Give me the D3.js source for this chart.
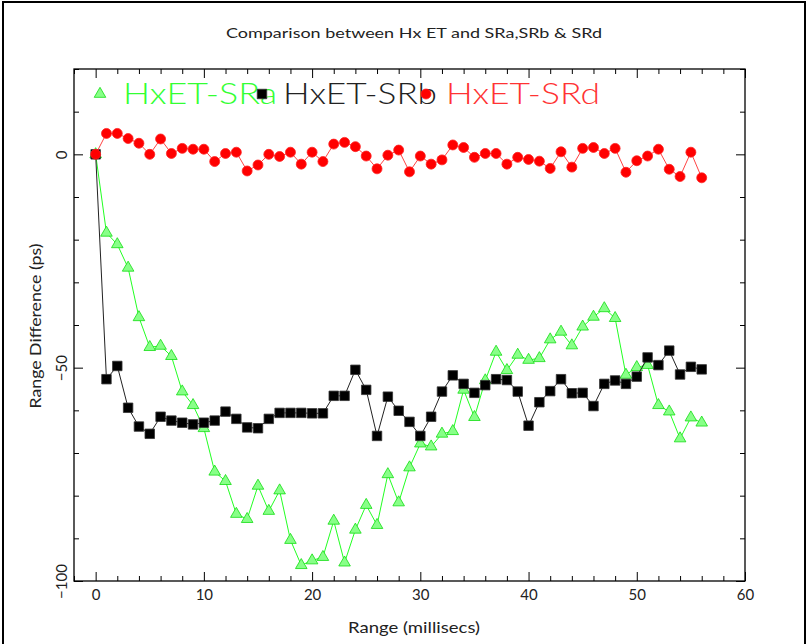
<!DOCTYPE html>
<html>
<head>
<meta charset="utf-8">
<script src="https://cdn.jsdelivr.net/npm/d3@7"></script>
<style>
  body { margin: 0; background: #fff; }
  svg { display: block; }
  text { font-family: Lato, "DejaVu Sans", sans-serif; fill: #222; }
</style>
</head>
<body>
<div id="chart"></div>
<script>
// data (x = 0..56)
const rangeMs = d3.range(0, 57);
const srA = [0, -18.4, -21.1, -26.6, -38.2, -45.2, -44.9, -47.3, -55.6, -58.8, -64.2, -74.4, -76.6, -84.3, -85.5,
  -77.7, -83.6, -78.8, -90.4, -96.3, -95.2, -94.4, -85.9, -95.7, -88.0, -82.2, -86.9, -75.0, -81.6, -73.4,
  -67.8, -68.5, -65.5, -64.9, -55.2, -61.6, -53.0, -46.3, -50.6, -47.0, -48.2, -47.8, -43.4, -41.6, -44.8,
  -40.4, -38.1, -36.1, -38.4, -51.7, -49.9, -49.4, -58.8, -60.3, -66.6, -61.7, -62.9];
const srB = [0, -52.7, -49.6, -59.4, -63.8, -65.5, -61.5, -62.4, -62.9, -63.3, -62.9, -62.4, -60.3, -62.0, -64.0,
  -64.2, -62.0, -60.6, -60.6, -60.6, -60.7, -60.7, -56.6, -56.6, -50.5, -55.2, -66.0, -56.8, -60.1, -62.7,
  -66.0, -61.5, -55.6, -51.8, -53.8, -55.9, -54.1, -52.7, -52.9, -55.6, -63.6, -58.1, -55.5, -52.7, -56.0,
  -55.9, -59.0, -53.8, -53.0, -53.8, -52.1, -47.6, -49.4, -46.0, -51.6, -49.8, -50.4];
const srD = [0, 4.9, 4.9, 3.7, 2.6, 0, 3.6, 0.2, 1.4, 1.2, 1.2, -1.7, 0.2, 0.5, -3.9, -2.5, 0, -0.5, 0.5, -2.3,
  0.5, -1.7, 2.4, 2.8, 1.8, -0.4, -3.4, -0.2, 1.0, -4.1, -0.4, -2.3, -1.3, 2.2, 1.6, -0.7, 0.2, 0.2, -2.3, -0.7,
  -1.2, -1.6, -3.3, 0.6, -3.0, 1.4, 1.6, 0.2, 1.4, -4.2, -1.5, -0.4, 1.2, -3.5, -5.2, 0.5, -5.5];

const seriesNames = ["HxET-SRa", "HxET-SRb", "HxET-SRd"];
const xMajorTicks = [0, 10, 20, 30, 40, 50, 60];
const yMajorTicks = [0, -50, -100];

const W = 809, H = 644;
const plot = { left: 74, right: 745, top: 69, bottom: 581 };

const svg = d3.select("#chart").append("svg").attr("width", W).attr("height", H);

// outer border
svg.append("path")
  .attr("d", `M3,${H} V2 H805 V${H}`)
  .attr("fill", "none").attr("stroke", "#000").attr("stroke-width", 2);

const x = d3.scaleLinear().domain([-2, 60]).range([plot.left, plot.right]);
const y = d3.scaleLinear().domain([-100, 20]).range([plot.bottom, plot.top]);

//axes: ticks pointing inward on all four sides
const xMinor = d3.range(-2, 61, 2).filter((d) => !xMajorTicks.includes(d));
const yMinor = d3.range(-100, 21, 10).filter((d) => !yMajorTicks.includes(d));

function tickAxis(axis, pos, vals, size, fmt) {
  const g = svg.append("g").attr("transform", pos)
    .call(axis.tickValues(vals).tickSizeInner(-size).tickSizeOuter(0).tickFormat(fmt || ""));
  g.select(".domain").remove();
  g.selectAll("line").attr("stroke", "#000");
  return g;
}

const labelFont = "Lato, 'DejaVu Sans', sans-serif";

const xb = tickAxis(d3.axisBottom(x).tickPadding(8), `translate(0,${plot.bottom})`, xMajorTicks, 9, d3.format("d"));
xb.selectAll("text").attr("font-size", 15).attr("fill", "#222").attr("font-family", labelFont);
tickAxis(d3.axisBottom(x), `translate(0,${plot.bottom})`, xMinor, 5);
tickAxis(d3.axisTop(x), `translate(0,${plot.top})`, xMajorTicks, 9);
tickAxis(d3.axisTop(x), `translate(0,${plot.top})`, xMinor, 5);

const yl = tickAxis(d3.axisLeft(y), `translate(${plot.left},0)`, yMajorTicks, 9, d3.format("d"));
yl.selectAll("text")
  .attr("x", null).attr("dy", null)
  .attr("text-anchor", "middle")
  .attr("transform", "translate(-7,0) rotate(-90)")
  .attr("font-size", 15).attr("fill", "#222").attr("font-family", labelFont);
tickAxis(d3.axisLeft(y), `translate(${plot.left},0)`, yMinor, 5);
tickAxis(d3.axisRight(y), `translate(${plot.right},0)`, yMajorTicks, 9);
tickAxis(d3.axisRight(y), `translate(${plot.right},0)`, yMinor, 5);

svg.append("rect")
  .attr("x", plot.left).attr("y", plot.top)
  .attr("width", plot.right - plot.left).attr("height", plot.bottom - plot.top)
  .attr("fill", "none").attr("stroke", "#000").attr("stroke-width", 1.3);

// titles
svg.append("text").attr("x", 414).attr("y", 38).attr("text-anchor", "middle")
  .attr("font-size", 14).attr("textLength", 376).attr("lengthAdjust", "spacingAndGlyphs")
  .text("Comparison between Hx ET and SRa,SRb & SRd");
svg.append("text").attr("x", 414).attr("y", 633).attr("text-anchor", "middle")
  .attr("font-size", 15).attr("textLength", 132).attr("lengthAdjust", "spacingAndGlyphs")
  .text("Range (millisecs)");
svg.append("text").attr("transform", "translate(41,326) rotate(-90)").attr("text-anchor", "middle")
  .attr("font-size", 15).attr("textLength", 165).attr("lengthAdjust", "spacingAndGlyphs")
  .text("Range Difference (ps)");

//marker shapes
const tri = d3.symbol().type(d3.symbolTriangle).size(58);
const sq = d3.symbol().type(d3.symbolSquare).size(90);
const circ = d3.symbol().type(d3.symbolCircle).size(78);

const series = [
  { name: seriesNames[0], vals: srA, line: "#22ff22", fill: "#88ff88", stroke: "#11dd11", text: "#33ff33", sym: tri },
  { name: seriesNames[1], vals: srB, line: "#222", fill: "#000", stroke: "#333", text: "#222", sym: sq },
  { name: seriesNames[2], vals: srD, line: "#ff4444", fill: "#ff0000", stroke: "#ff2222", text: "#ff3333", sym: circ },
];

const lineGen = d3.line().x((d) => x(d[0])).y((d) => y(d[1]));

for (const s of series) {
  const pts = rangeMs.map((r, i) => [r, s.vals[i]]);
  svg.append("path").datum(pts)
    .attr("d", lineGen).attr("fill", "none")
    .attr("stroke", s.line).attr("stroke-width", 1);
  svg.append("g").selectAll("path").data(pts).join("path")
    .attr("d", s.sym)
    .attr("transform", (d) => `translate(${x(d[0])},${y(d[1])})`)
    .attr("fill", s.fill).attr("stroke", s.stroke).attr("stroke-width", 0.8);
}

// legend across top of plot
const legendMarkX = [100, 262, 426];
const legendTextX = [123, 283, 446];
series.forEach((s, i) => {
  svg.append("text")
    .attr("x", legendTextX[i]).attr("y", 104)
    .attr("font-weight", 300)
    .attr("font-size", 29).attr("textLength", 154).attr("lengthAdjust", "spacingAndGlyphs")
    .style("fill", s.text)
    .text(s.name);
  svg.append("path").attr("d", s.sym)
    .attr("transform", `translate(${legendMarkX[i]},94)`)
    .attr("fill", s.fill).attr("stroke", s.stroke).attr("stroke-width", 0.8);
});
</script>
</body>
</html>
